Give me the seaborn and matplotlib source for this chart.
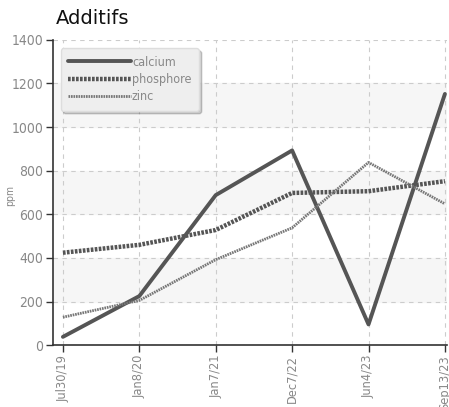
import numpy as np
import pandas as pd
import matplotlib
matplotlib.use("Agg")
import matplotlib.pyplot as plt
import seaborn as sns

dates = ["Jul30/19", "Jan8/20", "Jan7/21", "Dec7/22", "Jun4/23", "Sep13/23"]
calcium = [38, 225, 688, 893, 95, 1152]
phosphore = [424, 460, 528, 698, 706, 752]
zinc = [128, 205, 392, 538, 838, 648]

df = pd.DataFrame({"date": dates, "calcium": calcium, "phosphore": phosphore, "zinc": zinc})
long = df.melt(id_vars="date", var_name="serie", value_name="ppm")
long["x"] = long["date"].map({d: i for i, d in enumerate(dates)})

sns.set_style("white")
plt.rcParams["font.family"] = ["DejaVu Sans"]
plt.rcParams["font.stretch"] = "condensed"

fig = plt.figure(figsize=(4.49, 4.07), dpi=100)
ax = fig.add_axes([0.118, 0.152, 0.878, 0.75])

# bandes grises
for lo in (200, 600, 1000):
    ax.axhspan(lo, lo + 200, color="#f6f6f6", zorder=0)

styles = {"calcium": dict(color="#555555", lw=2.8, ls="-"),
          "phosphore": dict(color="#555555", lw=3.2, ls=(0, (0.6, 0.3))),
          "zinc": dict(color="#777777", lw=2.0, ls=(0, (0.6, 0.3)))}
for name, st in styles.items():
    sub = long[long["serie"] == name]
    sns.lineplot(data=sub, x="x", y="ppm", ax=ax, label=name, color=st["color"],
                 linewidth=st["lw"], linestyle=st["ls"], zorder=3)

ax.set_xlim(-0.13, 5.03)
ax.set_ylim(0, 1400)
ax.set_yticks(range(0, 1401, 200))
ax.set_xticks(range(len(dates)))
ax.set_xticklabels(dates, rotation=90)
ax.set_xlabel("")
ax.set_ylabel("")
fig.text(0.022, 0.52, "ppm", rotation=90, color="#888888", fontsize=7.5,
         va="center", ha="center", family="DejaVu Sans")
ax.grid(True, ls=(0, (4, 4)), color="#cccccc", lw=0.8)
ax.tick_params(axis="both", colors="#333333", labelcolor="#888888",
               direction="out", length=5, width=1, bottom=True, left=True, pad=2)
ax.tick_params(axis="y", labelsize=10)
ax.tick_params(axis="x", labelsize=9.2)
for s in ("top", "right"):
    ax.spines[s].set_visible(False)
for s in ("left", "bottom"):
    ax.spines[s].set_color("#333333")
    ax.spines[s].set_linewidth(1.2)

leg = ax.legend(loc="upper left", bbox_to_anchor=(0.01, 0.985), handlelength=5.0,
                handletextpad=0.1, labelspacing=0.35, fontsize=9, frameon=True,
                fancybox=True, shadow={"alpha": 0.25}, borderpad=0.6, borderaxespad=0.3)
leg.get_frame().set_facecolor("#eeeeee")
leg.get_frame().set_edgecolor("#dddddd")
for t in leg.get_texts():
    t.set_color("#888888")

fig.text(0.125, 0.94, "Additifs", fontsize=14, family="DejaVu Sans",
         stretch="normal", color="#111111")

fig.savefig("out.png", dpi=100)
